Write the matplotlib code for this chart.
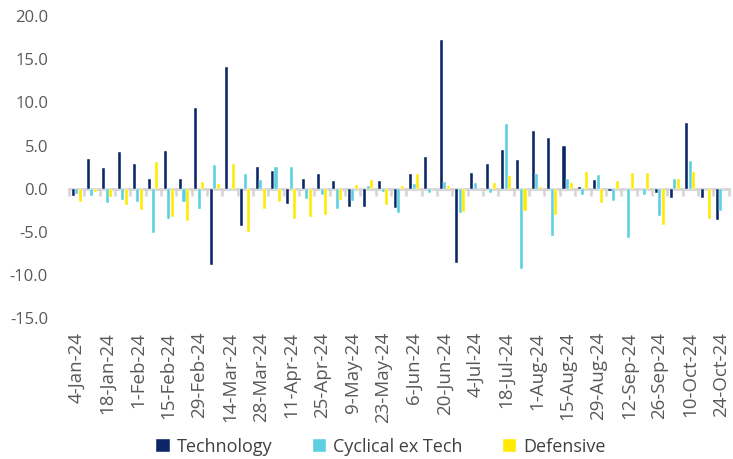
import numpy as np
import matplotlib
matplotlib.use("Agg")
from matplotlib import pyplot as plt
from matplotlib.ticker import FormatStrFormatter

# weekly dates (every one is a category, every second one is labelled)
dates = ["4-Jan-24", "11-Jan-24", "18-Jan-24", "25-Jan-24", "1-Feb-24", "8-Feb-24",
         "15-Feb-24", "22-Feb-24", "29-Feb-24", "7-Mar-24", "14-Mar-24", "21-Mar-24",
         "28-Mar-24", "4-Apr-24", "11-Apr-24", "18-Apr-24", "25-Apr-24", "2-May-24",
         "9-May-24", "16-May-24", "23-May-24", "30-May-24", "6-Jun-24", "13-Jun-24",
         "20-Jun-24", "27-Jun-24", "4-Jul-24", "11-Jul-24", "18-Jul-24", "25-Jul-24",
         "1-Aug-24", "8-Aug-24", "15-Aug-24", "22-Aug-24", "29-Aug-24", "5-Sep-24",
         "12-Sep-24", "19-Sep-24", "26-Sep-24", "3-Oct-24", "10-Oct-24", "17-Oct-24",
         "24-Oct-24"]

technology = [-0.8, 3.4, 2.45, 4.3, 2.8, 1.1, 4.4, 1.1, 9.4, -8.8,
              14.1, -4.3, 2.5, 2.0, -1.8, 1.15, 1.67, 0.93, -2.1, -2.1,
              0.9, -2.2, 1.75, 3.7, 17.2, -8.6, 1.86, 2.83, 4.5, 3.3,
              6.67, 5.9, 5.0, 0.2, 1.0, -0.23, 0.0, 0.0, -0.5, -1.1,
              7.6, -1.1, -3.6]
cyclical = [-0.6, -0.85, -1.7, -1.3, -1.6, -5.1, -3.5, -1.6, -2.4, 2.7,
            -0.1, 1.75, 1.05, 2.5, 2.5, -1.2, -0.75, -2.4, -1.4, 0.3,
            -0.4, -2.8, 0.5, -0.5, 0.78, -2.8, 0.66, -0.5, 7.5, -9.3,
            1.74, -5.5, 1.1, -0.7, 1.6, -1.4, -5.7, -0.7, -3.2, 1.1,
            3.2, 0.0, -2.6]
defensive = [-1.6, -0.4, -1.0, -1.9, -2.5, 3.06, -3.3, -3.8, 0.8, 0.55,
             2.8, -5.0, -2.4, -1.5, -3.5, -3.3, -3.1, -1.3, 0.43, 1.05,
             -1.9, 0.3, 1.67, 0.0, 0.3, -2.7, 0.0, 0.66, 1.5, -2.56,
             0.15, -3.0, 0.66, 1.9, -1.7, 0.9, 1.8, 1.8, -4.2, 1.1,
             1.9, -3.5, 0.0]

series_names = ["Technology", "Cyclical ex Tech", "Defensive"]
colors = ["#0b2566", "#5ccfe0", "#ffea00"]

plt.rcParams["font.family"] = ["Open Sans", "DejaVu Sans"]

fig = plt.figure(figsize=(7.33, 4.59), dpi=100)
ax = fig.add_axes([0.094, 0.307, 0.9, 0.658])

x = np.arange(len(dates))
w = 0.2
for k, vals in enumerate([technology, cyclical, defensive]):
    ax.bar(x + (k - 1) * 0.23, vals, width=w, color=colors[k],
           edgecolor="white", linewidth=0.3, label=series_names[k], zorder=2)

ax.set_xlim(-0.5, len(dates) - 0.5)
ax.set_ylim(-15, 20)
ax.set_yticks(np.arange(-15, 21, 5))
ax.yaxis.set_major_formatter(FormatStrFormatter("%.1f"))
ax.tick_params(axis="y", length=0, pad=15, labelsize=12, labelcolor="#595959")

# zero line with small tick marks between the weeks
for s in ["top", "right", "left"]:
    ax.spines[s].set_visible(False)
ax.spines["bottom"].set_position(("data", 0))
ax.spines["bottom"].set_color("#d4d4d4")
ax.spines["bottom"].set_linewidth(2)
ax.spines["bottom"].set_zorder(1)
ax.set_xticks(np.arange(len(dates) + 1) - 0.5)
ax.tick_params(axis="x", direction="out", length=5, width=1.8, color="#d4d4d4",
               labelbottom=False)

# date labels sit at the bottom of the plot area
secax = ax.secondary_xaxis("bottom")
secax.set_xticks(x[::2], dates[::2])
secax.spines["bottom"].set_visible(False)
secax.tick_params(axis="x", length=0, pad=10, labelsize=13.5, labelcolor="#595959",
                  labelrotation=90)

fig.legend(loc="center", bbox_to_anchor=(0.52, 0.027), ncol=3, frameon=False,
           fontsize=13, labelcolor="#404040", handlelength=0.75, handleheight=0.75,
           handletextpad=0.4, columnspacing=2.2)

fig.savefig("out.png", dpi=100)
